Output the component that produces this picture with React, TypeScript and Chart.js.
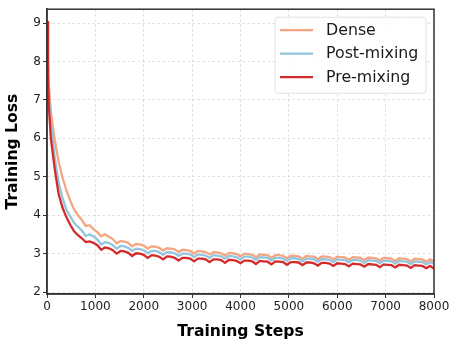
import React, { useEffect, useRef } from "react";
import { Chart, registerables } from "chart.js";

Chart.register(...registerables);

// Training steps (x values)
const STEPS: number[] = [0, 20, 40, ...Array.from({ length: 100 }, (_, i) => (i + 1) * 80)];

const DENSE: number[] = [
  9.05, 8.1, 7.35, 6.7, 5.95, 5.4, 4.98, 4.65,
  4.38, 4.15, 4.0, 3.88, 3.72, 3.74, 3.64, 3.56,
  3.45, 3.5, 3.44, 3.38, 3.27, 3.33, 3.31, 3.28,
  3.19, 3.25, 3.24, 3.21, 3.13, 3.19, 3.18, 3.15,
  3.08, 3.14, 3.13, 3.11, 3.04, 3.1, 3.09, 3.07,
  3.0, 3.07, 3.06, 3.04, 2.98, 3.04, 3.03, 3.01,
  2.95, 3.02, 3.01, 2.99, 2.93, 3.0, 2.99, 2.97,
  2.91, 2.98, 2.97, 2.96, 2.89, 2.96, 2.96, 2.94,
  2.88, 2.95, 2.94, 2.93, 2.87, 2.94, 2.93, 2.92,
  2.86, 2.93, 2.92, 2.91, 2.85, 2.92, 2.91, 2.9,
  2.84, 2.91, 2.9, 2.89, 2.83, 2.9, 2.89, 2.88,
  2.82, 2.89, 2.88, 2.87, 2.81, 2.88, 2.87, 2.86,
  2.8, 2.87, 2.86, 2.85, 2.79, 2.85, 2.8,
];

const POST_MIXING: number[] = [
  9.05, 7.9, 7.05, 6.4, 5.5, 4.85, 4.45, 4.15,
  3.97, 3.8, 3.7, 3.6, 3.46, 3.5, 3.45, 3.37,
  3.24, 3.3, 3.28, 3.22, 3.13, 3.2, 3.19, 3.15,
  3.07, 3.13, 3.12, 3.09, 3.01, 3.07, 3.07, 3.04,
  2.97, 3.04, 3.03, 3.01, 2.94, 3.0, 3.0, 2.98,
  2.91, 2.98, 2.97, 2.95, 2.89, 2.96, 2.95, 2.93,
  2.87, 2.94, 2.93, 2.91, 2.85, 2.92, 2.92, 2.9,
  2.84, 2.91, 2.9, 2.89, 2.82, 2.89, 2.89, 2.87,
  2.81, 2.88, 2.88, 2.86, 2.8, 2.87, 2.87, 2.85,
  2.79, 2.86, 2.85, 2.84, 2.78, 2.85, 2.84, 2.83,
  2.77, 2.84, 2.83, 2.82, 2.76, 2.83, 2.82, 2.81,
  2.75, 2.82, 2.81, 2.8, 2.74, 2.81, 2.8, 2.79,
  2.73, 2.8, 2.79, 2.78, 2.72, 2.78, 2.73,
];

const PRE_MIXING: number[] = [
  9.05, 7.6, 6.8, 6.0, 5.2, 4.55, 4.2, 3.95,
  3.75, 3.58, 3.48, 3.4, 3.3, 3.32, 3.28, 3.22,
  3.1, 3.16, 3.14, 3.09, 3.0, 3.07, 3.06, 3.02,
  2.94, 3.01, 3.0, 2.97, 2.89, 2.96, 2.95, 2.92,
  2.85, 2.93, 2.92, 2.89, 2.82, 2.89, 2.89, 2.87,
  2.8, 2.87, 2.87, 2.85, 2.78, 2.85, 2.85, 2.83,
  2.76, 2.84, 2.83, 2.81, 2.75, 2.82, 2.82, 2.8,
  2.73, 2.81, 2.8, 2.79, 2.72, 2.8, 2.79, 2.78,
  2.71, 2.78, 2.78, 2.77, 2.7, 2.77, 2.77, 2.75,
  2.69, 2.76, 2.76, 2.74, 2.68, 2.75, 2.74, 2.73,
  2.67, 2.74, 2.73, 2.72, 2.66, 2.73, 2.72, 2.71,
  2.65, 2.72, 2.71, 2.7, 2.64, 2.71, 2.7, 2.69,
  2.63, 2.7, 2.69, 2.68, 2.62, 2.68, 2.61,
];

const X_TICKS: number[] = [0, 1000, 2000, 3000, 4000, 5000, 6000, 7000, 8000];
const Y_TICKS: number[] = [2, 3, 4, 5, 6, 7, 8, 9];

const SERIES_NAMES = ["Dense", "Post-mixing", "Pre-mixing"];
const SERIES_COLORS = ["#f4a582", "#92c5de", "#d42a2a"];

const FONT = "'DejaVu Sans', sans-serif";

const framePlugin = {
  id: "frameLegend",
  afterDraw(chart: any) {
    const { ctx, chartArea: a } = chart;
    ctx.save();
    ctx.strokeStyle = "#333333";
    ctx.lineWidth = 1.5;
    ctx.strokeRect(a.left, a.top, a.right - a.left, a.bottom - a.top);

    // legend box
    const bw = 151;
    const bh = 76;
    const bx = a.right - 8 - bw;
    const by = a.top + 8;
    ctx.beginPath();
    const r = 3;
    ctx.moveTo(bx + r, by);
    ctx.lineTo(bx + bw - r, by);
    ctx.quadraticCurveTo(bx + bw, by, bx + bw, by + r);
    ctx.lineTo(bx + bw, by + bh - r);
    ctx.quadraticCurveTo(bx + bw, by + bh, bx + bw - r, by + bh);
    ctx.lineTo(bx + r, by + bh);
    ctx.quadraticCurveTo(bx, by + bh, bx, by + bh - r);
    ctx.lineTo(bx, by + r);
    ctx.quadraticCurveTo(bx, by, bx + r, by);
    ctx.closePath();
    ctx.fillStyle = "rgba(255,255,255,0.8)";
    ctx.fill();
    ctx.strokeStyle = "#e0e0e0";
    ctx.lineWidth = 1;
    ctx.stroke();

    ctx.font = `15.8px ${FONT}`;
    ctx.textBaseline = "middle";
    ctx.textAlign = "left";
    SERIES_NAMES.forEach((name, i) => {
      const cy = by + 13 + i * 23.5;
      ctx.strokeStyle = SERIES_COLORS[i];
      ctx.lineWidth = 2.3;
      ctx.beginPath();
      ctx.moveTo(bx + 5, cy);
      ctx.lineTo(bx + 38, cy);
      ctx.stroke();
      ctx.fillStyle = "#1a1a1a";
      ctx.fillText(name, bx + 51, cy + 0.5);
    });
    ctx.restore();
  },
};

export default function App() {
  const ref = useRef<HTMLCanvasElement | null>(null);

  useEffect(() => {
    if (!ref.current) return;
    const seriesValues = [DENSE, POST_MIXING, PRE_MIXING];
    const chart = new Chart(ref.current, {
      type: "line",
      data: {
        datasets: seriesValues.map((vals, i) => ({
          label: SERIES_NAMES[i],
          data: STEPS.map((s, j) => ({ x: s, y: vals[j] })),
          borderColor: SERIES_COLORS[i],
          backgroundColor: SERIES_COLORS[i],
          borderWidth: 2.3,
          pointRadius: 0,
          tension: 0,
          order: 3 - i,
        })),
      },
      options: {
        responsive: false,
        animation: false,
        layout: { padding: { left: 0, right: 21, top: 5, bottom: 0 } },
        plugins: {
          legend: { display: false },
          tooltip: { enabled: false },
        },
        scales: {
          x: {
            type: "linear",
            min: 0,
            max: 8000,
            afterBuildTicks: (scale: any) => {
              scale.ticks = X_TICKS.map((v) => ({ value: v }));
            },
            afterFit: (scale: any) => {
              scale.height = 53;
            },
            ticks: {
              font: { family: FONT, size: 12 },
              color: "#222222",
              padding: 2,
              maxRotation: 0,
              autoSkip: false,
              callback: (v: any) => String(v),
            },
            grid: {
              color: "rgba(0,0,0,0.16)",
              lineWidth: 0.8,
              borderDash: [2.5, 2.5],
              tickLength: 4,
              tickColor: "#333333",
              tickWidth: 1,
            } as any,
            border: { display: true, color: "#333333", width: 1.5, dash: [2.5, 2.5] } as any,
            title: {
              display: true,
              text: "Training Steps",
              font: { family: FONT, size: 15.6, weight: "bold" },
              color: "#000000",
              padding: { top: 0, bottom: 6 },
            },
          },
          y: {
            type: "linear",
            min: 1.95,
            max: 9.36,
            afterBuildTicks: (scale: any) => {
              scale.ticks = Y_TICKS.map((v) => ({ value: v }));
            },
            afterFit: (scale: any) => {
              scale.width = 47;
            },
            ticks: {
              font: { family: FONT, size: 12 },
              color: "#222222",
              padding: 2,
              autoSkip: false,
              callback: (v: any) => String(v),
            },
            grid: {
              color: "rgba(0,0,0,0.16)",
              lineWidth: 0.8,
              borderDash: [2.5, 2.5],
              tickLength: 4,
              tickColor: "#333333",
              tickWidth: 1,
            } as any,
            border: { display: true, color: "#333333", width: 1.5, dash: [2.5, 2.5] } as any,
            title: {
              display: true,
              text: "Training Loss",
              font: { family: FONT, size: 15.6, weight: "bold" },
              color: "#000000",
              padding: { top: 3.5, bottom: 0 },
            },
          },
        },
      },
      plugins: [framePlugin],
    });
    return () => chart.destroy();
  }, []);

  return (
    <div style={{ position: "fixed", left: 0, top: 0, width: 455, height: 347, background: "#ffffff" }}>
      <canvas ref={ref} width={455} height={347} style={{ display: "block" }} />
    </div>
  );
}
